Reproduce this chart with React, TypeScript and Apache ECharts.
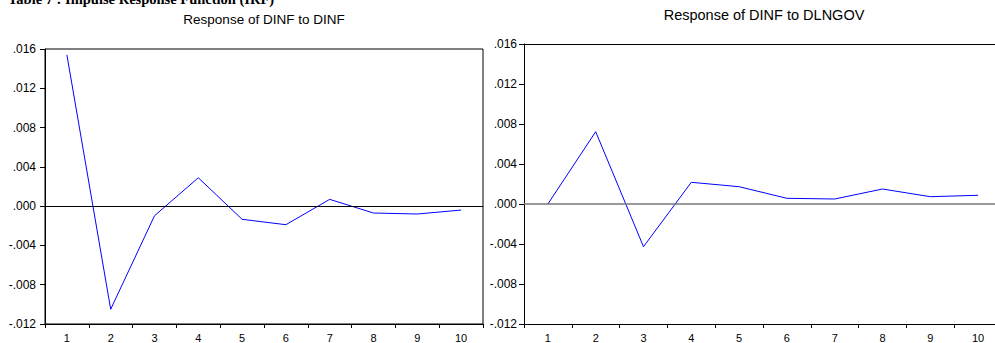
import React, { useEffect, useRef } from "react";
import * as echarts from "echarts";

const periods = ["1", "2", "3", "4", "5", "6", "7", "8", "9", "10"];
const dinfToDinf = [0.0154, -0.0105, -0.00098, 0.00289, -0.00134, -0.00189, 0.00069, -0.0007, -0.0008, -0.0004];
const dinfToDlngov = [0.0, 0.00723, -0.00427, 0.00217, 0.00173, 0.00057, 0.0005, 0.0015, 0.00073, 0.00087];
const yMin = -0.012;
const yMax = 0.016;
const yStep = 0.004;
const pageTitle = "Table 7 : Impulse Response Function (IRF)";
const leftTitle = "Response of DINF to DINF";
const rightTitle = "Response of DINF to DLNGOV";

const fmt = (v: number) => {
  const s = Math.abs(v).toFixed(3).replace(/^0\./, ".");
  return v < -1e-9 ? "-" + s : s;
};

export default function App() {
  const ref = useRef<HTMLDivElement>(null);
  useEffect(() => {
    if (!ref.current) return;
    const chart = echarts.init(ref.current, undefined, { renderer: "svg" });
    const font = "Liberation Sans, Arial, sans-serif";
    const xAxisBase = (gridIndex: number, margin: number) => ({
      type: "category" as const,
      gridIndex,
      data: periods,
      boundaryGap: true,
      axisLine: { show: true, onZero: false, lineStyle: { color: "#000", width: 1 } },
      axisTick: { show: true, inside: false, length: 4, alignWithLabel: false, lineStyle: { color: "#000" } },
      axisLabel: { color: "#000", fontSize: 11, fontFamily: font, margin },
      splitLine: { show: false },
    });
    const yAxisBase = (gridIndex: number, margin: number) => ({
      type: "value" as const,
      gridIndex,
      min: yMin,
      max: yMax,
      interval: yStep,
      axisLine: { show: true, onZero: false, lineStyle: { color: "#000", width: 1 } },
      axisTick: { show: true, inside: false, length: 5, lineStyle: { color: "#000" } },
      axisLabel: { color: "#000", fontSize: 12, fontFamily: font, margin, formatter: fmt },
      splitLine: { show: false },
    });
    chart.setOption({
      animation: false,
      backgroundColor: "#fff",
      grid: [
        { left: 45, top: 49, width: 438, height: 275, show: true, borderColor: "#000", borderWidth: 1, backgroundColor: "transparent" },
        { left: 524, top: 44, width: 478, height: 280, show: false },
      ],
      xAxis: [
        xAxisBase(0, 8),
        xAxisBase(1, 8),
        {
          type: "category",
          gridIndex: 1,
          position: "top",
          data: periods,
          boundaryGap: true,
          axisLine: { show: true, onZero: false, lineStyle: { color: "#000", width: 1 } },
          axisTick: { show: false },
          axisLabel: { show: false },
          splitLine: { show: false },
        },
      ],
      yAxis: [yAxisBase(0, 9), yAxisBase(1, 7)],
      graphic: [
        {
          type: "text",
          left: 8,
          top: -9,
          style: { text: pageTitle, font: "bold 14.5px 'Liberation Serif', 'Times New Roman', serif", fill: "#000" },
        },
        {
          type: "text",
          x: 264,
          y: 19,
          style: { text: leftTitle, fontSize: 13.5, fontFamily: font, fill: "#000", align: "center", verticalAlign: "middle" },
        },
        {
          type: "text",
          x: 764,
          y: 15,
          style: { text: rightTitle, fontSize: 14.5, fontFamily: font, fill: "#000", align: "center", verticalAlign: "middle" },
        },
      ],
      series: [
        {
          type: "line",
          xAxisIndex: 0,
          yAxisIndex: 0,
          data: dinfToDinf,
          symbol: "none",
          lineStyle: { color: "#0000ff", width: 1 },
          markLine: {
            silent: true,
            symbol: "none",
            label: { show: false },
            lineStyle: { color: "#000", width: 1, type: "solid" },
            data: [{ yAxis: 0 }],
          },
        },
        {
          type: "line",
          xAxisIndex: 1,
          yAxisIndex: 1,
          data: dinfToDlngov,
          symbol: "none",
          lineStyle: { color: "#0000ff", width: 1 },
          markLine: {
            silent: true,
            symbol: "none",
            label: { show: false },
            lineStyle: { color: "#777", width: 1.5, type: "solid" },
            data: [{ yAxis: 0 }],
          },
        },
      ],
    });
    return () => chart.dispose();
  }, []);
  return (
    <div style={{ position: "absolute", left: 0, top: 0, width: 995, height: 343, overflow: "hidden", background: "#fff" }}>
      <div ref={ref} style={{ width: 1010, height: 343 }} />
    </div>
  );
}
